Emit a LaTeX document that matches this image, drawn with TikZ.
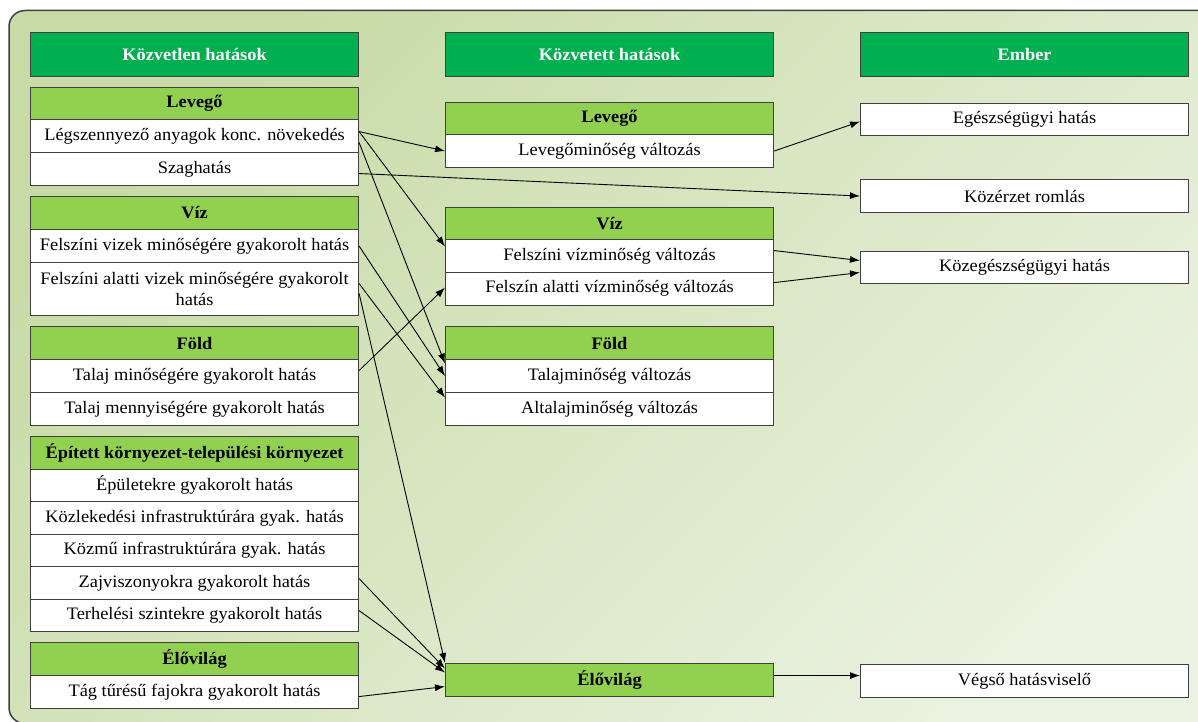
\documentclass[tikz,border=0pt]{standalone}
\usepackage{fontspec}
\setmainfont{Liberation Serif}[FakeStretch=1.05]
\usetikzlibrary{arrows.meta}
\definecolor{hdrgreen}{HTML}{00B050}
\definecolor{grpgreen}{HTML}{92D050}
\definecolor{bgA}{HTML}{C8DBA7}
\definecolor{bgB}{HTML}{EBF2E1}
\definecolor{framegray}{HTML}{404040}

\begin{document}
\begin{tikzpicture}[x=1pt,y=-1pt,
  box/.style={draw=framegray, line width=1.1pt, anchor=north west,
    minimum width=328pt, inner sep=0pt, align=center,
    font=\fontsize{17.5}{21}\selectfont},
  colhead/.style={box, fill=hdrgreen, text=white,
    font=\fontsize{17.5}{21}\selectfont\bfseries, minimum height=44pt},
  grphead/.style={box, fill=grpgreen,
    font=\fontsize{17.5}{21}\selectfont\bfseries, minimum height=#1},
  grphead/.default=33pt,
  item/.style={box, fill=white, minimum height=#1},
  item/.default=33pt,
  link/.style={draw=black, line width=0.9pt, -{Latex[length=10pt,width=7pt]}},
]
\useasboundingbox (0,0) rectangle (1198,722);

% panel background
\draw[draw=framegray, line width=1.5pt, rounded corners=16pt,
      top color=bgA, bottom color=bgB, shading angle=45]
  (9,10.5) rectangle (1240,723.5);

% column headers
\node[colhead] (h1) at (30,32)  {Közvetlen hatások};
\node[colhead] (h2) at (445,32) {Közvetett hatások};
\node[colhead] (h3) at (860,32) {Ember};

% direct effects
\node[grphead=32pt] (gL1) at (30,87) {Levegő};
\node[item] (l1a) at (30,119) {Légszennyező anyagok konc. növekedés};
\node[item] (l1b) at (30,152) {Szaghatás};
\node[grphead] (gL2) at (30,196) {Víz};
\node[item] (l2a) at (30,229) {Felszíni vizek minőségére gyakorolt hatás};
\node[item=53pt] (l2b) at (30,262) {Felszíni alatti vizek minőségére gyakorolt\\hatás};
\node[grphead] (gL3) at (30,326) {Föld};
\node[item] (l3a) at (30,359) {Talaj minőségére gyakorolt hatás};
\node[item] (l3b) at (30,392) {Talaj mennyiségére gyakorolt hatás};
\node[grphead=32.5pt] (gL4) at (30,436) {Épített környezet-települési környezet};
\node[item=32.5pt] (l4a) at (30,468.5) {Épületekre gyakorolt hatás};
\node[item=32.5pt] (l4b) at (30,501) {Közlekedési infrastruktúrára gyak. hatás};
\node[item=32.5pt] (l4c) at (30,533.5) {Közmű infrastruktúrára gyak. hatás};
\node[item=32.5pt] (l4d) at (30,566) {Zajviszonyokra gyakorolt hatás};
\node[item=32.5pt] (l4e) at (30,598.5) {Terhelési szintekre gyakorolt hatás};
\node[grphead] (gL5) at (30,642) {Élővilág};
\node[item] (l5a) at (30,675) {Tág tűrésű fajokra gyakorolt hatás};

% indirect effects
\node[grphead=32pt] (gM1) at (445,102) {Levegő};
\node[item] (m1a) at (445,134) {Levegőminőség változás};
\node[grphead=32pt] (gM2) at (445,207) {Víz};
\node[item] (m2a) at (445,239) {Felszíni vízminőség változás};
\node[item=32.5pt] (m2b) at (445,272) {Felszín alatti vízminőség változás};
\node[grphead] (gM3) at (445,326) {Föld};
\node[item] (m3a) at (445,359) {Talajminőség változás};
\node[item] (m3b) at (445,392) {Altalajminőség változás};
\node[grphead] (gM4) at (445,663) {Élővilág};

% human receptors
\node[item=32pt] (r1) at (860,103) {Egészségügyi hatás};
\node[item] (r2) at (860,179) {Közérzet romlás};
\node[item=32pt] (r3) at (860,251) {Közegészségügyi hatás};
\node[item] (r4) at (860,664) {Végső hatásviselő};

% direct -> indirect
\draw[link] ([yshift=4.5pt]l1a.east) -- (m1a.west);
\draw[link] ([yshift=4.5pt]l1a.east) -- ([yshift=9.5pt]m2a.west);
\draw[link] ([yshift=-6.5pt]l1a.east) -- ([yshift=12.5pt]m3a.west);
\draw[link] ([yshift=-4.5pt]l1b.east) -- (r2.west);
\draw[link] (l2a.east) -- (m3a.west);
\draw[link] ([yshift=5.5pt]l2b.east) -- ([yshift=11.5pt]m3b.west);
\draw[link] ([yshift=-4.5pt]l2b.east) -- (gM4.north west);
\draw[link] ([yshift=5.5pt]l3a.east) -- ([yshift=1.2pt]m2b.west);
\draw[link] ([yshift=4.2pt]l4d.east) -- ([yshift=11.5pt]gM4.west);
\draw[link] ([yshift=4.7pt]l4e.east) -- ([yshift=7.5pt]gM4.west);
\draw[link] ([yshift=-4.5pt]l5a.east) -- ([yshift=-6.5pt]gM4.west);

% indirect -> human
\draw[link] (m1a.east) -- ([yshift=-2pt]r1.west);
\draw[link] ([yshift=5.5pt]m2a.east) -- ([yshift=7pt]r3.west);
\draw[link] ([yshift=6.2pt]m2b.east) -- ([yshift=-5pt]r3.west);
\coordinate (e15) at ([yshift=4.5pt]gM4.east);
\draw[link] (e15) -- (e15 -| r4.west);
\end{tikzpicture}
\end{document}
